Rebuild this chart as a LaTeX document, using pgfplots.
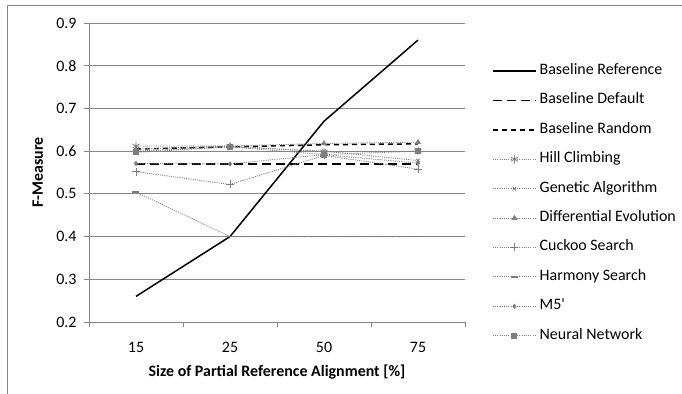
\documentclass[border=0pt]{standalone}
\usepackage{pgfplots}
\pgfplotsset{compat=1.18}
\usepackage{fontspec}
\setmainfont{Carlito}
\definecolor{axgray}{RGB}{134,134,134}
\definecolor{sgray}{RGB}{125,125,125}
\begin{document}
\begin{tikzpicture}
\useasboundingbox (0bp,0bp) rectangle (682bp,394bp);
\draw[axgray, line width=0.8bp] (7.5bp,0bp) -- (7.5bp,389bp) -- (682bp,389bp);
\begin{axis}[
  at={(89bp,72bp)}, anchor=south west,
  scale only axis, width=376bp, height=299bp,
  xmin=-0.5, xmax=3.5, ymin=0.2, ymax=0.9,
  axis x line=bottom, axis y line=left,
  axis line style={axgray, line width=0.8bp, -},
  xtick={0,1,2,3}, xticklabels={15,25,50,75},
  minor xtick={-0.5,0.5,1.5,2.5,3.5},
  major x tick style={draw=none},
  minor x tick style={axgray, line width=0.8bp},
  minor tick length=5bp,
  ytick={0.2,0.3,0.4,0.5,0.6,0.7,0.8,0.9},
  yticklabel style={/pgf/number format/fixed, /pgf/number format/precision=1, xshift=-4bp},
  y tick style={axgray, line width=0.8bp},
  major tick length=5bp,
  tick align=outside,
  ymajorgrids, grid style={axgray, line width=0.8bp},
  /pgf/number format/assume math mode=true,
  tick label style={font=\fontsize{16}{19}\selectfont, text=black},
  xticklabel style={anchor=center, yshift=-20bp},
  label style={font=\fontsize{16}{19}\selectfont\bfseries},
  xlabel={Size of Partial Reference Alignment [\%]},
  xlabel style={at={(axis description cs:0.5,-0.166)}, anchor=center},
  ylabel={F-Measure},
  ylabel style={at={(axis description cs:-0.136,0.5)}, anchor=center},
  legend image code/.code={\draw[mark repeat=2, mark phase=2] plot coordinates {(0bp,0bp) (21.5bp,0bp) (43bp,0bp)};},
  legend style={draw=none, fill=none, at={(axis description cs:1.0718,0.865)}, anchor=north west,
    font=\fontsize{16}{19}\selectfont, inner sep=0pt,
    nodes={inner sep=0pt, text height=11bp, text depth=4bp},
    row sep=14.4bp, column sep=3bp},
  legend cell align=left,
]
\addplot[black, line width=1.5bp, no marks] coordinates {(0,0.26) (1,0.40) (2,0.67) (3,0.86)};
\addlegendentry{Baseline Reference}
\addplot[black, line width=1.5bp, no marks, dash pattern=on 9bp off 5bp] coordinates {(0,0.57) (1,0.57) (2,0.57) (3,0.57)};
\addlegendentry{Baseline Default}
\addplot[black, line width=1.5bp, no marks, dash pattern=on 5bp off 4bp] coordinates {(0,0.605) (1,0.61) (2,0.615) (3,0.617)};
\addlegendentry{Baseline Random}
\addplot[sgray, line width=0.9bp, dash pattern=on 1bp off 1.2bp, mark=asterisk, mark size=4bp, mark options={solid, line width=0.8bp}] coordinates {(0,0.612) (1,0.612) (2,0.598) (3,0.60)};
\addlegendentry{Hill Climbing}
\addplot[sgray, line width=0.9bp, dash pattern=on 1bp off 1.2bp, mark=x, mark size=2.5bp, mark options={solid, line width=0.8bp}] coordinates {(0,0.60) (1,0.61) (2,0.60) (3,0.578)};
\addlegendentry{Genetic Algorithm}
\addplot[sgray, line width=0.9bp, dash pattern=on 1bp off 1.2bp, mark=triangle*, mark size=2.5bp, mark options={solid}] coordinates {(0,0.605) (1,0.612) (2,0.618) (3,0.621)};
\addlegendentry{Differential Evolution}
\addplot[sgray, line width=0.9bp, dash pattern=on 1bp off 1.2bp, mark=+, mark size=4bp, mark options={solid, line width=0.8bp}] coordinates {(0,0.552) (1,0.522) (2,0.59) (3,0.558)};
\addlegendentry{Cuckoo Search}
\addplot[sgray, line width=0.9bp, dash pattern=on 1bp off 1.2bp, mark=-, mark size=3.5bp, mark options={solid, line width=1.5bp}] coordinates {(0,0.504) (1,0.40) (2,0.40) (3,0.40)};
\addlegendentry{Harmony Search}
\addplot[sgray, line width=0.9bp, dash pattern=on 1bp off 1.2bp, mark=diamond*, mark size=2bp, mark options={solid}] coordinates {(0,0.571) (1,0.57) (2,0.592) (3,0.572)};
\addlegendentry{M5\textquotesingle}
\addplot[sgray, line width=0.9bp, dash pattern=on 1bp off 1.2bp, mark=square*, mark size=2.5bp, mark options={solid}] coordinates {(0,0.597) (1,0.61) (2,0.592) (3,0.60)};
\addlegendentry{Neural Network}
\end{axis}
\end{tikzpicture}
\end{document}
